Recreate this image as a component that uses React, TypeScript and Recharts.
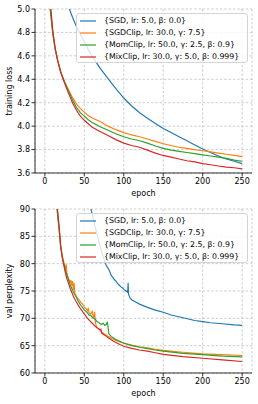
import React from 'react';
import { LineChart, Line, XAxis, YAxis, CartesianGrid, Legend } from 'recharts';

const FONT = '"DejaVu Sans", "Liberation Sans", sans-serif';

const epochTicks = [0, 50, 100, 150, 200, 250];
const trainTicks = [3.6, 3.8, 4.0, 4.2, 4.4, 4.6, 4.8, 5.0];
const valTicks = [60, 65, 70, 75, 80, 85, 90];

const seriesNames = [
  '{SGD, lr: 5.0, β: 0.0}',
  '{SGDClip, lr: 30.0, γ: 7.5}',
  '{MomClip, lr: 50.0, γ: 2.5, β: 0.9}',
  '{MixClip, lr: 30.0, γ: 5.0, β: 0.999}',
];
const seriesColors = ['#1f77b4', '#ff7f0e', '#2ca02c', '#d62728'];

// training loss: [epoch, value]
const sgdTrain = [[1, 8.5], [3, 7.6], [5, 7.0], [7, 6.55], [10, 6.1], [13, 5.8], [16, 5.57], [20, 5.35], [25, 5.17], [30, 5.02], [35, 4.93], [40, 4.85], [45, 4.785], [50, 4.72], [55, 4.655], [60, 4.595], [70, 4.495], [80, 4.405], [90, 4.32], [100, 4.24], [110, 4.172], [120, 4.115], [130, 4.067], [140, 4.022], [150, 3.98], [160, 3.945], [170, 3.91], [180, 3.875], [190, 3.84], [200, 3.805], [210, 3.775], [220, 3.745], [230, 3.72], [240, 3.7], [250, 3.68]];
const sgdClipTrain = [[1, 7.5], [3, 6.2], [5, 5.4], [7, 5.0], [10, 4.8], [13, 4.66], [16, 4.57], [20, 4.47], [25, 4.38], [30, 4.31], [35, 4.245], [40, 4.19], [45, 4.15], [50, 4.12], [55, 4.09], [60, 4.07], [70, 4.04], [80, 4.0], [90, 3.97], [100, 3.945], [110, 3.925], [120, 3.91], [130, 3.89], [140, 3.87], [150, 3.85], [160, 3.835], [170, 3.82], [180, 3.81], [190, 3.8], [200, 3.79], [210, 3.78], [220, 3.77], [230, 3.76], [240, 3.75], [250, 3.74]];
const momClipTrain = [[1, 7.4], [3, 6.1], [5, 5.35], [7, 4.98], [10, 4.79], [13, 4.66], [16, 4.565], [20, 4.465], [25, 4.375], [30, 4.3], [35, 4.225], [40, 4.16], [45, 4.115], [50, 4.085], [55, 4.055], [60, 4.03], [70, 3.995], [80, 3.965], [90, 3.935], [100, 3.91], [110, 3.89], [120, 3.875], [130, 3.855], [140, 3.83], [150, 3.81], [160, 3.795], [170, 3.785], [180, 3.775], [190, 3.765], [200, 3.755], [210, 3.745], [220, 3.735], [230, 3.725], [240, 3.71], [250, 3.7]];
const mixClipTrain = [[1, 7.6], [3, 6.3], [5, 5.5], [7, 5.05], [10, 4.82], [13, 4.67], [16, 4.565], [20, 4.46], [25, 4.365], [30, 4.28], [35, 4.2], [40, 4.135], [45, 4.085], [50, 4.05], [55, 4.02], [60, 3.99], [70, 3.955], [80, 3.92], [90, 3.885], [100, 3.855], [110, 3.835], [120, 3.82], [130, 3.795], [140, 3.77], [150, 3.75], [160, 3.735], [170, 3.72], [180, 3.705], [190, 3.695], [200, 3.68], [210, 3.67], [220, 3.66], [230, 3.65], [240, 3.645], [250, 3.635]];

// validation perplexity: [epoch, value]
const sgdVal = [[1, 250], [10, 160], [20, 130], [30, 115], [40, 103], [50, 95], [56, 91.5], [60, 89], [64, 86.6], [68, 84.3], [72, 82.2], [76, 80.4], [78, 79.6], [80, 79.2], [82, 78.6], [84, 77.9], [86, 77.5], [88, 77.1], [90, 76.8], [92, 76.4], [94, 76.1], [96, 75.8], [98, 75.6], [100, 75.3], [102, 75.1], [103, 74.9], [104, 75.0], [105, 74.7], [105.5, 76.5], [106, 74.4], [107, 74.1], [108, 73.7], [110, 73.4], [115, 73.0], [120, 72.6], [130, 72.0], [140, 71.5], [150, 71.1], [160, 70.6], [175, 70.1], [190, 69.6], [200, 69.4], [210, 69.2], [225, 69.0], [240, 68.8], [250, 68.7]];
const sgdClipVal = [[1, 300], [10, 120], [15, 91], [18, 86.5], [20, 83.2], [22, 81.5], [24, 80.3], [26, 79.0], [27, 79.9], [28, 78.2], [30, 77.3], [32, 76.6], [33, 77.0], [34, 76.0], [35, 76.8], [36, 75.2], [37, 76.5], [38, 74.6], [40, 74.0], [42, 73.6], [44, 73.3], [46, 72.8], [48, 72.6], [50, 72.0], [52, 71.8], [54, 71.4], [55, 71.9], [56, 71.0], [58, 70.8], [60, 71.3], [61, 70.4], [62, 70.2], [63, 71.2], [64, 69.5], [65, 68.6], [66, 68.3], [68, 68.1], [70, 67.8], [72, 67.5], [75, 67.2], [78, 66.9], [80, 66.7], [85, 66.3], [90, 66.0], [95, 65.7], [100, 65.5], [110, 65.1], [120, 64.8], [130, 64.6], [140, 64.35], [150, 64.15], [175, 63.8], [200, 63.5], [225, 63.35], [250, 63.2]];
const momClipVal = [[1, 290], [10, 118], [15, 90.5], [18, 86.2], [20, 83.0], [22, 81.2], [24, 80.0], [26, 78.9], [28, 77.9], [30, 77.0], [32, 76.2], [34, 75.5], [36, 74.9], [38, 74.3], [40, 73.8], [42, 73.2], [44, 72.7], [46, 72.3], [48, 71.9], [50, 71.5], [52, 71.3], [54, 71.0], [56, 70.6], [58, 70.6], [60, 70.2], [62, 70.0], [64, 69.8], [66, 69.4], [68, 69.3], [70, 69.0], [72, 68.9], [74, 69.1], [76, 68.7], [78, 68.9], [79, 69.4], [80, 68.6], [81, 67.2], [82, 67.0], [84, 66.7], [86, 66.5], [90, 66.1], [95, 65.8], [100, 65.45], [110, 65.0], [120, 64.7], [130, 64.45], [140, 64.2], [150, 64.0], [175, 63.6], [200, 63.35], [225, 63.1], [250, 62.95]];
const mixClipVal = [[1, 310], [10, 122], [15, 91.5], [18, 87], [20, 83.4], [22, 81.2], [24, 79.7], [26, 78.3], [28, 77.2], [30, 76.4], [32, 75.5], [34, 74.8], [36, 74.1], [38, 73.5], [40, 73.0], [42, 72.5], [44, 72.0], [46, 71.6], [48, 71.2], [50, 70.8], [52, 70.4], [54, 70.0], [56, 69.7], [58, 69.4], [60, 69.1], [62, 68.8], [64, 68.5], [66, 68.3], [68, 68.1], [70, 67.9], [71, 68.0], [72, 67.3], [74, 67.1], [76, 66.9], [78, 66.7], [80, 66.5], [85, 66.0], [90, 65.6], [95, 65.2], [100, 64.9], [110, 64.5], [120, 64.2], [130, 64.0], [140, 63.7], [150, 63.4], [175, 63.0], [200, 62.7], [225, 62.4], [250, 62.1]];

const trainSeries = [sgdTrain, sgdClipTrain, momClipTrain, mixClipTrain];
const valSeries = [sgdVal, sgdClipVal, momClipVal, mixClipVal];

const toRows = (pairs: number[][]) => pairs.map(([epoch, v]) => ({ epoch, v }));

const LegendBox = () => (
  <div
    style={{
      width: 172,
      height: 50,
      boxSizing: 'border-box',
      border: '1px solid #d4d4d4',
      borderRadius: 3,
      background: 'rgba(255,255,255,0.8)',
      paddingTop: 1,
      fontFamily: FONT,
      fontSize: 7.8,
      color: '#000',
    }}
  >
    {seriesNames.map((name, i) => (
      <div key={name} style={{ display: 'flex', alignItems: 'center', height: 12, whiteSpace: 'nowrap' }}>
        <svg width={16} height={4} style={{ marginLeft: 3, marginRight: 8, flexShrink: 0, display: 'block' }}>
          <line x1={0} x2={16} y1={2} y2={2} stroke={seriesColors[i]} strokeWidth={1.2} />
        </svg>
        <span style={{ lineHeight: '12px' }}>{name}</span>
      </div>
    ))}
  </div>
);

const makeYLabel = (text: string) => (props: any) => {
  const vb = props && props.viewBox ? props.viewBox : { y: 9, height: 164 };
  const cy = vb.y + vb.height / 2;
  return (
    <text
      x={9}
      y={cy}
      transform={`rotate(-90, 9, ${cy})`}
      textAnchor="middle"
      dominantBaseline="central"
      fontSize={8}
      fontFamily={FONT}
      fill="#000"
    >
      {text}
    </text>
  );
};

const makeXLabel = (text: string) => (props: any) => {
  const vb = props && props.viewBox ? props.viewBox : { x: 35, y: 173, width: 217 };
  const cx = vb.x + vb.width / 2;
  return (
    <text x={cx} y={vb.y + 23} textAnchor="middle" fontSize={8} fontFamily={FONT} fill="#000">
      {text}
    </text>
  );
};

type PanelProps = {
  series: number[][][];
  ticks: number[];
  domain: [number, number];
  ylabel: string;
  fmt: (v: number) => string;
};

const Panel = ({ series, ticks, domain, ylabel, fmt }: PanelProps) => (
  <LineChart width={258} height={200} margin={{ top: 9, right: 6, bottom: 0, left: 0 }}>
    <CartesianGrid stroke="#b8b8b8" strokeDasharray="2.5 1.8" strokeWidth={0.7} />
    <XAxis
      type="number"
      dataKey="epoch"
      domain={[-12.5, 262.5]}
      ticks={epochTicks}
      allowDataOverflow
      height={27}
      tickSize={3.5}
      tickMargin={1.5}
      axisLine={{ stroke: '#000', strokeWidth: 0.8 }}
      tickLine={{ stroke: '#000', strokeWidth: 0.8 }}
      tick={{ fill: '#000', fontSize: 8, fontFamily: FONT }}
      label={{ value: 'epoch', content: makeXLabel('epoch') }}
    />
    <XAxis
      xAxisId="top"
      orientation="top"
      type="number"
      domain={[-12.5, 262.5]}
      allowDataOverflow
      height={0}
      tick={false}
      tickLine={false}
      axisLine={{ stroke: '#000', strokeWidth: 0.8 }}
    />
    <YAxis
      type="number"
      domain={domain}
      ticks={ticks}
      allowDataOverflow
      width={35}
      tickSize={3.5}
      tickMargin={1.5}
      tickFormatter={fmt}
      axisLine={{ stroke: '#000', strokeWidth: 0.8 }}
      tickLine={{ stroke: '#000', strokeWidth: 0.8 }}
      tick={{ fill: '#000', fontSize: 8, fontFamily: FONT }}
      label={{ value: ylabel, content: makeYLabel(ylabel) }}
    />
    <YAxis
      yAxisId="right"
      orientation="right"
      type="number"
      domain={domain}
      allowDataOverflow
      width={0}
      tick={false}
      tickLine={false}
      axisLine={{ stroke: '#000', strokeWidth: 0.8 }}
    />
    {series.map((s, i) => (
      <Line
        key={seriesNames[i]}
        data={toRows(s)}
        dataKey="v"
        name={seriesNames[i]}
        stroke={seriesColors[i]}
        strokeWidth={1.15}
        dot={false}
        activeDot={false}
        isAnimationActive={false}
      />
    ))}
    <Legend
      layout="vertical"
      align="center"
      verticalAlign="middle"
      wrapperStyle={{ top: 13, left: 76, width: 172, height: 50 }}
      content={() => <LegendBox />}
    />
  </LineChart>
);

export default function App() {
  return (
    <div style={{ position: 'absolute', left: 0, top: 0, width: 258, height: 404, background: '#fff' }}>
      <div style={{ position: 'absolute', left: 0, top: 0 }}>
        <Panel series={trainSeries} ticks={trainTicks} domain={[3.6, 5.0]} ylabel="training loss" fmt={(v) => v.toFixed(1)} />
      </div>
      <div style={{ position: 'absolute', left: 0, top: 200 }}>
        <Panel series={valSeries} ticks={valTicks} domain={[60, 90]} ylabel="val perplexity" fmt={(v) => String(v)} />
      </div>
    </div>
  );
}
